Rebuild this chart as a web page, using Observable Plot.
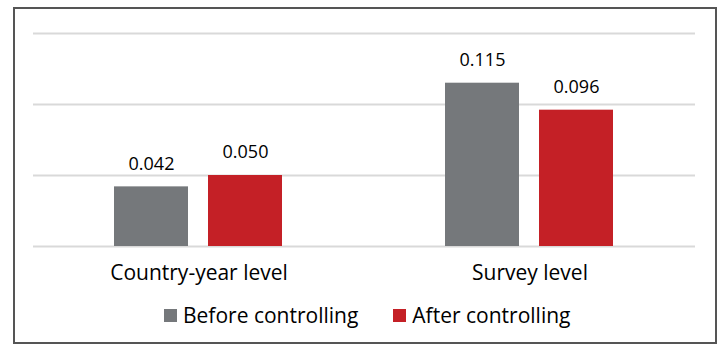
<!DOCTYPE html>
<html>
<head>
<meta charset="utf-8">
<script src="https://cdn.jsdelivr.net/npm/d3@7"></script>
<script src="https://cdn.jsdelivr.net/npm/@observablehq/plot@0.6"></script>
<style>
  html, body { margin: 0; padding: 0; background: #fff; }
  #wrap { position: relative; width: 722px; height: 354px; overflow: hidden; font-family: "Open Sans", sans-serif; }
  #frame { position: absolute; left: 13px; top: 7px; width: 700px; height: 333px; border: 2px solid #555; box-sizing: content-box; }
  #chart { position: absolute; left: 0; top: 0; }
  #legend { position: absolute; left: 164px; top: 300px; height: 30px; display: flex; align-items: center; font-size: 21px; color: #000; }
  .item { display: flex; align-items: center; }
  .sw { width: 13px; height: 13px; margin-right: 6px; }
</style>
</head>
<body>
<div id="wrap">
  <div id="frame"></div>
  <div id="chart"></div>
  <div id="legend"></div>
</div>
<script>
const categories = ["Country-year level", "Survey level"];
const series = ["Before controlling", "After controlling"];
const before = [0.042, 0.115];
const after = [0.050, 0.096];
const yTicks = [0, 0.05, 0.10, 0.15];
const colors = ["#75787b", "#c42026"];

const data = categories.flatMap((c, i) => [
  {category: c, series: series[0], value: before[i]},
  {category: c, series: series[1], value: after[i]}
]);

const chart = Plot.plot({
  width: 722,
  height: 295,
  marginTop: 33,
  marginBottom: 49,
  marginLeft: 32,
  marginRight: 27,
  style: {fontFamily: "Open Sans", fontSize: "18px", color: "#000", background: "transparent"},
  fx: {domain: categories, padding: 0, label: null},
  x: {domain: series, paddingInner: 0.2105, paddingOuter: 0.85, axis: null},
  y: {domain: [0, 0.15], axis: null},
  color: {domain: series, range: colors},
  marks: [
    Plot.ruleY(yTicks, {stroke: "#d9d9d9", strokeWidth: 2}),
    Plot.barY(data, {fx: "category", x: "series", y: "value", fill: "series"}),
    Plot.text(data, {fx: "category", x: "series", y: "value", text: d => d.value.toFixed(3), dy: -23, fill: "#000", fontSize: 18}),
    Plot.axisFx({anchor: "bottom", tickSize: 0, tickPadding: 19, fontSize: 21, label: null, fill: "#000"})
  ]
});
document.getElementById("chart").appendChild(chart);

const legend = document.getElementById("legend");
series.forEach((s, i) => {
  const item = document.createElement("div");
  item.className = "item";
  if (i > 0) item.style.marginLeft = "35px";
  const sw = document.createElement("div");
  sw.className = "sw";
  sw.style.background = colors[i];
  const t = document.createElement("span");
  t.textContent = s;
  item.appendChild(sw);
  item.appendChild(t);
  legend.appendChild(item);
});
</script>
</body>
</html>
